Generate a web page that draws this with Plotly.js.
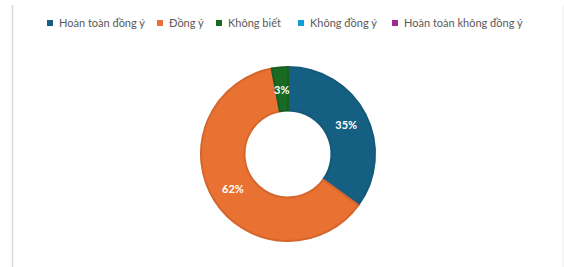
<!DOCTYPE html>
<html><head><meta charset="utf-8">
<script src="https://cdn.plot.ly/plotly-3.0.1.min.js"></script>
<style>html,body{margin:0;padding:0;background:#fff}#c{width:564px;height:267px}</style>
</head><body><div id="c"></div>
<script>
const categories = ["Hoàn toàn đồng ý", "Đồng ý", "Không biết", "Không đồng ý", "Hoàn toàn không đồng ý"];
const values = [35, 62, 3, 0, 0];
const colors = ["#156082", "#E97132", "#196B24", "#0F9ED5", "#A02B93"];
const edgeColors = ["#14587A", "#D4662D", "#175F21", "#0E90C2", "#912785"];
const legendX = [47, 157, 216, 298, 392];

const W = 564, H = 267;
const cx = 288, cy = 154, r = 87, hole = 0.5;
const FONT = "Lato, 'Noto Sans', sans-serif";

const total = values.reduce((a, b) => a + b, 0);
const textPos = values.map(v => (v / total >= 0.05 ? "inside" : "none"));
const edgeWidths = values.map(v => (v > 0 ? 2 : 0));

const annotations = [];
let acc = 0;
values.forEach((v, i) => {
  const mid = (acc + v / 2) / total;
  acc += v;
  if (v > 0 && textPos[i] === "none") {
    const ang = mid * 2 * Math.PI;
    const rr = r * (1 + hole) / 2;
    annotations.push({
      xref: "paper", yref: "paper",
      x: (cx + rr * Math.sin(ang)) / W, y: (H - (cy - rr * Math.cos(ang))) / H,
      text: "<b>" + Math.round(v / total * 100) + "%</b>", showarrow: false,
      font: {family: FONT, size: 11, color: "#ffffff"}, xanchor: "center", yanchor: "middle"
    });
  }
});

const shapes = [
  {type: "line", xref: "paper", yref: "paper", x0: 12.5 / W, x1: 12.5 / W, y0: 0, y1: (H - 5) / H, line: {color: "#d9d9d9", width: 1.5}},
  {type: "line", xref: "paper", yref: "paper", x0: 563 / W, x1: 563 / W, y0: 0, y1: (H - 5) / H, line: {color: "#eeeeee", width: 1}}
];
const ly = 23;
categories.forEach((c, i) => {
  shapes.push({type: "rect", xref: "paper", yref: "paper",
    x0: legendX[i] / W, x1: (legendX[i] + 6) / W, y0: (H - ly - 3) / H, y1: (H - ly + 3) / H,
    fillcolor: colors[i], line: {width: 0}});
  annotations.push({xref: "paper", yref: "paper", x: (legendX[i] + 10) / W, y: (H - ly) / H,
    text: c, showarrow: false, xanchor: "left", yanchor: "middle",
    font: {family: FONT, size: 11, color: "#595959"}});
});

Plotly.newPlot("c", [{
  type: "pie",
  labels: categories,
  values: values,
  hole: hole,
  sort: false,
  direction: "clockwise",
  rotation: 0,
  marker: {colors: colors, line: {color: edgeColors, width: edgeWidths}},
  texttemplate: "%{percent:.0%}",
  textposition: textPos,
  insidetextorientation: "horizontal",
  textfont: {family: FONT, size: 11, color: "#ffffff", weight: "bold"},
  domain: {x: [(cx - r) / W, (cx + r) / W], y: [(H - cy - r) / H, (H - cy + r) / H]},
  showlegend: false,
  hoverinfo: "none"
}], {
  width: W, height: H,
  margin: {l: 0, r: 0, t: 0, b: 0},
  paper_bgcolor: "#ffffff",
  showlegend: false,
  shapes: shapes,
  annotations: annotations
}, {staticPlot: true, displayModeBar: false});
</script></body></html>
